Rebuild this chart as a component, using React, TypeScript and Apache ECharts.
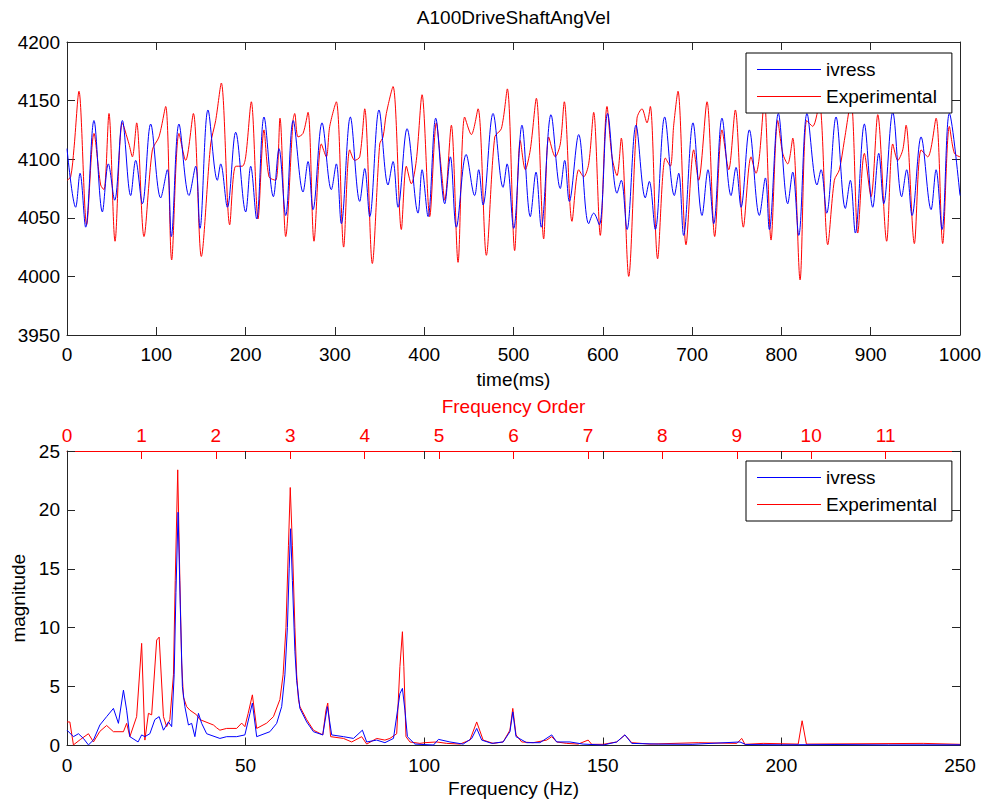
import React, { useEffect, useRef } from "react";
import * as echarts from "echarts";

const FONT = "'Liberation Sans', Arial, Helvetica, sans-serif";

// ---- Time domain (ms, rad/s) ----
const timeIvress: [number, number][] = [
  [0, 4109], [9.7, 4059], [14.6, 4088], [20.9, 4042], [30.2, 4133], [39.6, 4055], [46.3, 4096], [53.4, 4065],
  [62, 4133], [71.3, 4069], [76.9, 4099], [84.4, 4062], [93.7, 4130], [104.9, 4067], [112.4, 4091], [116.8, 4034],
  [125.4, 4130], [136.6, 4069], [144.1, 4094], [148.9, 4041], [157.9, 4142], [168.4, 4082], [172.1, 4096], [179.6, 4059],
  [188.9, 4123], [200.1, 4055], [205.7, 4094], [212.4, 4049], [220.6, 4136], [231.1, 4068], [237.4, 4109], [244.9, 4052],
  [253.3, 4133], [264.3, 4072], [269.9, 4098], [275.5, 4057], [285.6, 4131], [296, 4074], [301.6, 4096], [307.2, 4045],
  [317.3, 4136], [327.8, 4064], [333.4, 4092], [339, 4051], [349.4, 4142], [359.5, 4078], [365.1, 4098], [370.7, 4059],
  [380.8, 4126], [393.1, 4054], [397.6, 4091], [404.3, 4051], [412.9, 4135], [423, 4062], [429.3, 4102], [436, 4042],
  [447, 4104], [456.5, 4069], [461, 4091], [465.9, 4061], [477.1, 4139], [488.3, 4076], [492.8, 4096], [500.2, 4041],
  [509.5, 4129], [518.8, 4051], [525.2, 4089], [531.1, 4042], [542, 4138], [552.4, 4075], [557.3, 4099], [562.5, 4064],
  [573, 4121], [584.2, 4045], [589.8, 4054], [596.1, 4044], [605.4, 4139], [615.9, 4071], [620.7, 4082], [627.1, 4040],
  [637.2, 4129], [647.6, 4067], [652.1, 4081], [658.8, 4040], [669.3, 4136], [680.1, 4069], [685, 4088], [690.5, 4035],
  [701, 4131], [711.1, 4052], [717.8, 4091], [724.2, 4045], [733.5, 4135], [743.6, 4069], [749.2, 4093], [754.8, 4059],
  [764.1, 4125], [775.3, 4052], [782.1, 4084], [786.5, 4040], [796.6, 4139], [807.1, 4062], [812.7, 4089], [819.4, 4035],
  [828.7, 4139], [839.9, 4078], [844.4, 4091], [850.7, 4054], [861.2, 4136], [871.6, 4058], [877.2, 4082], [882.8, 4037],
  [892.9, 4130], [902.3, 4059], [909, 4105], [914.6, 4062], [924.7, 4140], [934.7, 4068], [940.3, 4091], [946.3, 4052],
  [956.4, 4119], [967.6, 4057], [973.2, 4091], [979.9, 4040], [988.1, 4139], [1000, 4069],
];

const timeExperimental: [number, number][] = [
  [0, 4082], [4.1, 4085], [7.8, 4109], [13.4, 4158], [22, 4044], [30.2, 4122], [37.7, 4078], [41.4, 4074],
  [47, 4139], [53.8, 4030], [62, 4131], [69.4, 4113], [73.2, 4102], [78, 4131], [86.2, 4034], [95.6, 4108],
  [103, 4119], [110.5, 4145], [117.2, 4014], [125.4, 4122], [132.9, 4099], [141.5, 4139], [150.4, 4017], [160.9, 4113],
  [166.5, 4133], [172.8, 4165], [182.2, 4044], [188.9, 4094], [196.3, 4094], [200.1, 4102], [206.4, 4149], [213.9, 4049],
  [220.6, 4125], [226.2, 4085], [233.7, 4082], [238.5, 4135], [244.9, 4034], [253.1, 4133], [255, 4139], [258.7, 4119],
  [264.3, 4122], [269.9, 4140], [276.6, 4030], [284.8, 4113], [290.4, 4102], [294.2, 4128], [301.6, 4149], [309.8, 4025],
  [316.6, 4108], [322.2, 4099], [327.8, 4102], [333.4, 4143], [341.9, 4011], [350.2, 4113], [353.9, 4119], [357.6, 4139],
  [365.1, 4162], [374.4, 4040], [380, 4094], [385.6, 4079], [391.2, 4099], [397.6, 4155], [406.2, 4051], [413.6, 4131],
  [419.2, 4091], [423, 4065], [430.4, 4129], [437.9, 4012], [445.3, 4136], [452.8, 4121], [460.3, 4143], [469.6, 4018],
  [479, 4119], [486.4, 4126], [493.1, 4160], [501.3, 4022], [507.6, 4116], [513.2, 4091], [518.8, 4108], [525.6, 4152],
  [533.8, 4032], [539.4, 4119], [546.8, 4102], [552.4, 4113], [556.9, 4149], [565.5, 4047], [573, 4091], [578.6, 4085],
  [584.2, 4096], [589.8, 4140], [597.2, 4035], [604.7, 4145], [610.3, 4102], [615.9, 4086], [620.7, 4118], [629, 4000],
  [638.3, 4135], [643.9, 4143], [649.5, 4131], [653.2, 4145], [661.4, 4015], [670, 4101], [675.6, 4094], [679.4, 4129],
  [684.2, 4158], [693.2, 4027], [701.8, 4108], [707.3, 4082], [716.7, 4149], [725.3, 4034], [733.5, 4125], [741, 4091],
  [748.4, 4142], [757.4, 4042], [766, 4102], [771.6, 4088], [775.3, 4102], [780.9, 4150], [788.4, 4031], [795.9, 4133],
  [801.5, 4105], [807.1, 4096], [812.7, 4118], [820.9, 3997], [828.3, 4133], [835.1, 4128], [842.5, 4148], [851.9, 4027],
  [859.3, 4082], [864.9, 4091], [870.5, 4116], [878, 4150], [885.5, 4037], [892.9, 4105], [900.4, 4068], [907.9, 4138],
  [917.9, 4030], [924.7, 4113], [930.3, 4099], [935.9, 4108], [939.6, 4129], [948.9, 4028], [956.4, 4108], [963.9, 4102],
  [973.2, 4135], [980.6, 4028], [988.1, 4128], [993.7, 4105], [1000, 4102],
];

// ---- Spectrum (Hz, magnitude) ----
const specIvress: [number, number][] = [
  [0, 1.3], [1.8, 0.75], [3.2, 1.0], [4.6, 0.6], [6, 0.05], [7.4, 0.46], [9.2, 1.74], [11.1, 2.45], [13, 3.15],
  [14.4, 1.88], [15.8, 4.7], [16.7, 3.0], [17.6, 0.75], [19.9, 0.3], [20.9, 0.9], [21.8, 0.75], [23.2, 1.0],
  [24.6, 2.2], [25.8, 2.45], [27, 1.3], [28.4, 2.0], [29.3, 1.6], [30, 6], [30.5, 13], [31.1, 19.8], [31.7, 12],
  [32.3, 5], [33, 3.3], [34, 1.74], [34.9, 1.88], [35.8, 0.75], [36.8, 2.73], [37.7, 1.88], [39.1, 1.0], [42.8, 0.6],
  [44.7, 0.75], [47.5, 0.75], [49.8, 0.9], [51.2, 2.7], [51.9, 3.6], [53.1, 0.75], [56.8, 1.17], [58.7, 1.88],
  [60.1, 3.3], [61, 6], [61.7, 10], [62.2, 15], [62.6, 18.4], [63.1, 14], [63.8, 8], [64.3, 5.5], [65.2, 3.15],
  [67.1, 2.0], [69, 1.17], [71.6, 0.9], [72.9, 3.3], [74.1, 0.9], [77.4, 0.75], [80.2, 0.6], [82.7, 1.3], [83.9, 0.3],
  [86.7, 0.46], [89, 0.24], [91.4, 0.6], [93.2, 4.4], [93.9, 4.85], [94.6, 3.0], [95.3, 0.75], [97.4, 0.12],
  [102.6, 0.04], [104, 0.52], [107.2, 0.3], [110.9, 0.12], [113.3, 0.6], [114.7, 1.45], [116.1, 0.46], [118.9, 0.18],
  [122.1, 0.3], [124, 1.17], [124.8, 2.85], [125.7, 0.75], [128.7, 0.24], [132.4, 0.24], [135.7, 0.9], [137.1, 0.3],
  [140.8, 0.3], [144.5, 0.12], [150.1, 0.04], [153.9, 0.3], [156.2, 0.9], [158.1, 0.18], [165.5, 0.12], [175, 0.1],
  [188.4, 0.3], [190, 0.08], [200, 0.06], [215, 0.08], [230, 0.05], [250, 0.06],
];

const specExperimental: [number, number][] = [
  [0, 2.0], [0.8, 2.0], [1.8, 0.05], [3.7, 0.5], [6, 1.0], [7.4, 0.3], [9.2, 1.2], [11.1, 1.7], [13, 1.17],
  [15.8, 1.17], [16.7, 1.88], [17.6, 0.75], [19.5, 2.45], [20.9, 8.67], [21.8, 0.46], [22.8, 2.73], [23.7, 2.6],
  [25.1, 8.95], [25.8, 9.2], [27, 2.45], [27.9, 1.6], [28.8, 2.2], [29.8, 6], [30.3, 14], [31, 23.4], [31.6, 14],
  [32.1, 7], [32.6, 4.1], [33.5, 3.3], [34.4, 3.0], [36.3, 2.6], [37.2, 2.2], [41, 1.74], [41.9, 1.5], [42.8, 1.3],
  [44.7, 1.45], [47.5, 1.45], [48.9, 1.9], [49.8, 1.6], [50.7, 2.7], [51.9, 4.3], [53.1, 1.45], [55.9, 1.9],
  [57.8, 2.45], [59.6, 3.9], [60.5, 6], [61.3, 10], [62, 17], [62.5, 21.9], [63.1, 17], [63.8, 10], [64.3, 6],
  [64.8, 3.9], [65.2, 3.3], [67.1, 2.2], [69, 1.3], [71.6, 0.9], [72.5, 3.0], [73, 3.6], [73.8, 0.75], [77.4, 0.6],
  [79.7, 0.3], [82.5, 0.75], [83.9, 0.12], [86.7, 0.6], [89, 0.46], [90.4, 0.6], [92.3, 1.0], [93.2, 6.7],
  [93.9, 9.66], [94.3, 6.7], [94.9, 0.75], [96, 0.3], [98.8, 0.18], [100.2, 0.24], [103.5, 0.3], [106.3, 0.18],
  [110, 0.12], [112.8, 0.46], [114.7, 2.0], [116.5, 0.46], [119.3, 0.18], [122.1, 0.3], [124, 1.3], [124.8, 3.15],
  [125.7, 0.9], [127.3, 0.3], [130.5, 0.24], [134.3, 0.46], [135.7, 0.75], [137.1, 0.3], [139.9, 0.18], [143.1, 0.12],
  [145.9, 0.46], [146.9, 0.1], [150.1, 0.1], [153.9, 0.3], [156.2, 0.9], [158.1, 0.24], [163.2, 0.12], [176.7, 0.24],
  [187.5, 0.18], [188.9, 0.6], [189.8, 0.1], [194.9, 0.18], [204.7, 0.12], [205.8, 2.1], [207, 0.12], [239.7, 0.18],
  [250, 0.1],
];

const seriesNames = ["ivress", "Experimental"];
const BLUE = "#0000ff";
const RED = "#ff0000";
const AX = "#262626";
const FS = 19;

const plain = (v: number) => String(v);
const baseLabel = { fontSize: FS, fontFamily: FONT, color: "#000" };

function mirrorX(gridIndex: number, min: number, max: number, interval: number, showLine = true) {
  return {
    type: "value", gridIndex, position: "top", min, max, interval,
    axisLine: { show: showLine, onZero: false, lineStyle: { color: AX, width: 1 } },
    axisTick: { show: true, inside: true, length: 8, lineStyle: { color: AX } },
    axisLabel: { show: false }, splitLine: { show: false },
  };
}
function mirrorY(gridIndex: number, min: number, max: number, interval: number) {
  return {
    type: "value", gridIndex, position: "right", min, max, interval,
    axisLine: { show: true, onZero: false, lineStyle: { color: AX, width: 1 } },
    axisTick: { show: true, inside: true, length: 8, lineStyle: { color: AX } },
    axisLabel: { show: false }, splitLine: { show: false },
  };
}

function legendAt(top: number) {
  return {
    orient: "vertical", left: 746, top, icon: "rect", itemWidth: 64, itemHeight: 1, itemGap: 8,
    padding: [7, 15, 7, 11], borderColor: "#000", borderWidth: 1, backgroundColor: "#fff",
    textStyle: { ...baseLabel, lineHeight: 19 }, data: seriesNames,
  };
}

const option = {
  animation: false,
  backgroundColor: "#fff",
  textStyle: { fontFamily: FONT },
  grid: [
    { left: 67, top: 42, width: 893, height: 293 },
    { left: 67, top: 451, width: 893, height: 294.5 },
  ],
  graphic: [
    { type: "text", x: 513.5, y: 8, style: { text: "A100DriveShaftAngVel", fontSize: FS, fontFamily: FONT, fill: "#000", align: "center" } },
  ],
  legend: [legendAt(53), legendAt(461)],
  xAxis: [
    {
      type: "value", gridIndex: 0, position: "bottom", min: 0, max: 1000, interval: 100,
      axisLine: { onZero: false, lineStyle: { color: AX } },
      axisTick: { inside: true, length: 8, lineStyle: { color: AX } },
      axisLabel: { ...baseLabel, margin: 10, formatter: plain }, splitLine: { show: false },
      name: "time(ms)", nameLocation: "middle", nameGap: 35, nameTextStyle: baseLabel,
    },
    mirrorX(0, 0, 1000, 100),
    {
      type: "value", gridIndex: 1, position: "bottom", min: 0, max: 250, interval: 50,
      axisLine: { onZero: false, lineStyle: { color: AX } },
      axisTick: { inside: true, length: 8, lineStyle: { color: AX } },
      axisLabel: { ...baseLabel, margin: 10, formatter: plain }, splitLine: { show: false },
      name: "Frequency (Hz)", nameLocation: "middle", nameGap: 33, nameTextStyle: baseLabel,
    },
    {
      type: "value", gridIndex: 1, position: "top", min: 0, max: 12, interval: 1,
      axisLine: { onZero: false, lineStyle: { color: RED } },
      axisTick: { inside: true, length: 8, lineStyle: { color: RED } },
      axisLabel: { ...baseLabel, color: RED, margin: 6, formatter: (v: number) => (v >= 12 ? "" : String(v)) },
      splitLine: { show: false },
      name: "Frequency Order", nameLocation: "middle", nameGap: 35, nameTextStyle: { ...baseLabel, color: RED },
    },
    mirrorX(1, 0, 250, 50, false),
  ],
  yAxis: [
    {
      type: "value", gridIndex: 0, position: "left", min: 3950, max: 4200, interval: 50,
      axisLine: { show: true, onZero: false, lineStyle: { color: AX } },
      axisTick: { show: true, inside: true, length: 8, lineStyle: { color: AX } },
      axisLabel: { ...baseLabel, margin: 7, formatter: plain }, splitLine: { show: false },
    },
    mirrorY(0, 3950, 4200, 50),
    {
      type: "value", gridIndex: 1, position: "left", min: 0, max: 25, interval: 5,
      axisLine: { show: true, onZero: false, lineStyle: { color: AX } },
      axisTick: { show: true, inside: true, length: 8, lineStyle: { color: AX } },
      axisLabel: { ...baseLabel, margin: 7, formatter: plain }, splitLine: { show: false },
      name: "magnitude", nameLocation: "middle", nameGap: 36, nameTextStyle: baseLabel,
    },
    mirrorY(1, 0, 25, 5),
  ],
  series: [
    {
      name: "Experimental", type: "line", xAxisIndex: 0, yAxisIndex: 0, data: timeExperimental,
      showSymbol: false, symbol: "none", smooth: 0.3, lineStyle: { color: RED, width: 1 }, itemStyle: { color: RED },
    },
    {
      name: "ivress", type: "line", xAxisIndex: 0, yAxisIndex: 0, data: timeIvress,
      showSymbol: false, symbol: "none", smooth: 0.35, lineStyle: { color: BLUE, width: 1 }, itemStyle: { color: BLUE },
    },
    {
      name: "Experimental", type: "line", xAxisIndex: 2, yAxisIndex: 2, data: specExperimental,
      showSymbol: false, symbol: "none", lineStyle: { color: RED, width: 1 }, itemStyle: { color: RED },
    },
    {
      name: "ivress", type: "line", xAxisIndex: 2, yAxisIndex: 2, data: specIvress,
      showSymbol: false, symbol: "none", lineStyle: { color: BLUE, width: 1 }, itemStyle: { color: BLUE },
    },
  ],
};

export default function App() {
  const ref = useRef<HTMLDivElement>(null);
  useEffect(() => {
    if (!ref.current) return;
    const chart = echarts.init(ref.current, null, { renderer: "svg" });
    chart.setOption(option as any);
    return () => chart.dispose();
  }, []);
  return (
    <div
      ref={ref}
      style={{ position: "fixed", left: 0, top: 0, width: 987, height: 805, background: "#fff" }}
    />
  );
}
